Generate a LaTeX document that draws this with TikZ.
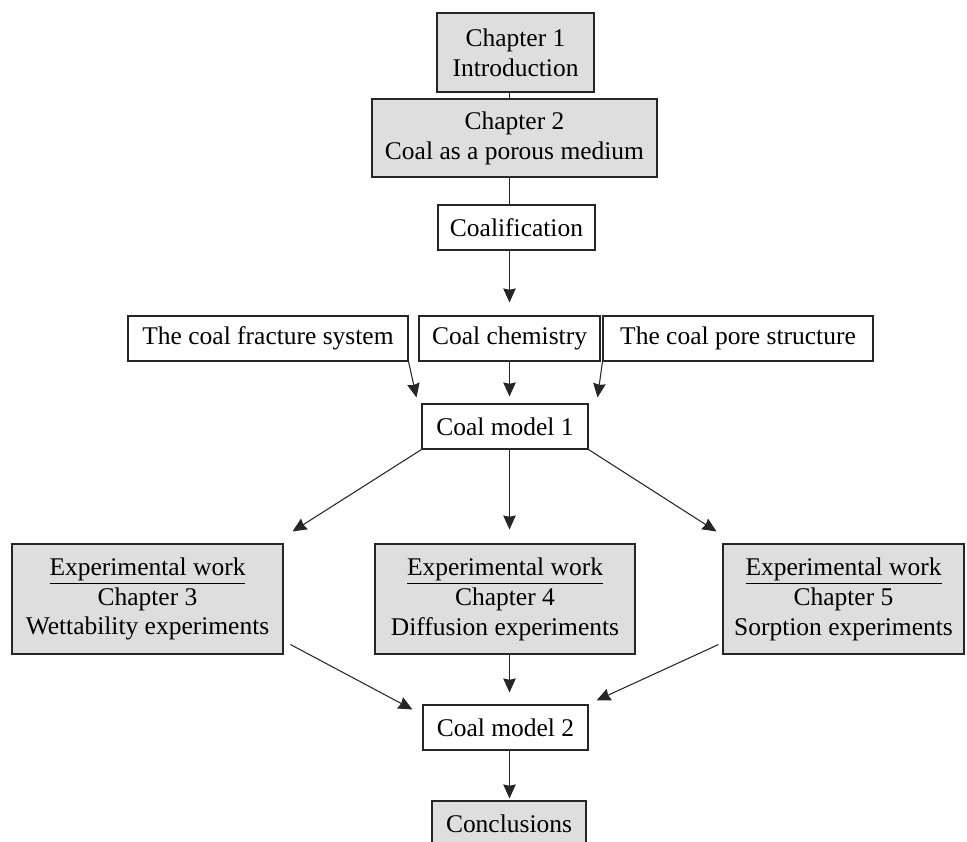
\documentclass[tikz,border=0pt]{standalone}
\usepackage{fontspec}
\setmainfont{Liberation Serif}
\usepackage{xcolor}
\definecolor{boxgrey}{gray}{0.87}
\usetikzlibrary{arrows.meta, calc}

\begin{document}
\begin{tikzpicture}[>={Stealth[length=2.8mm, width=2.5mm, inset=0.25mm]}, every node/.style={font=\fontsize{14.5}{17}\selectfont},
  whitebox/.style={draw=black!85, line width=0.6pt, fill=white, align=center, inner sep=0pt},
  greybox/.style={whitebox, fill=boxgrey},
  link/.style={draw=black!85, line width=0.6pt}]
  \useasboundingbox (0,0) rectangle (19.34,-16.82);
  \node[greybox, minimum width=3.14cm, minimum height=1.58cm] (chap1) at (10.31,-1.05) {Chapter 1\\Introduction};
  \node[greybox, minimum width=5.7cm, minimum height=1.56cm] (chap2) at (10.29,-2.76) {Chapter 2\\Coal as a porous medium};
  \node[whitebox, minimum width=3.14cm, minimum height=0.9cm] (coalif) at (10.33,-4.55) {Coalification};
  \node[whitebox, minimum width=5.6cm, minimum height=0.9cm] (fracture) at (5.36,-6.77) {The coal fracture system};
  \node[whitebox, minimum width=3.62cm, minimum height=0.9cm] (chemistry) at (10.19,-6.77) {Coal chemistry};
  \node[whitebox, minimum width=5.4cm, minimum height=0.9cm] (pores) at (14.76,-6.77) {The coal pore structure};
  \node[whitebox, minimum width=3.32cm, minimum height=0.9cm] (model1) at (10.10,-8.53) {Coal model 1};
  \node[greybox, minimum width=5.42cm, minimum height=2.2cm] (exp3) at (2.95,-11.98) {\underline{Experimental work}\\Chapter 3\\Wettability experiments};
  \node[greybox, minimum width=5.2cm, minimum height=2.2cm] (exp4) at (10.10,-11.98) {\underline{Experimental work}\\Chapter 4\\Diffusion experiments};
  \node[greybox, minimum width=4.82cm, minimum height=2.2cm] (exp5) at (16.87,-11.98) {\underline{Experimental work}\\Chapter 5\\Sorption experiments};
  \node[whitebox, minimum width=3.3cm, minimum height=0.9cm] (model2) at (10.11,-14.55) {Coal model 2};
  \node[greybox, minimum width=3.08cm, minimum height=0.9cm] (concl) at (10.18,-16.47) {Conclusions};
  \draw[link] (chap1.south -| chemistry.north) -- (chap2.north -| chemistry.north);
  \draw[link] (chap2.south -| chemistry.north) -- (coalif.north -| chemistry.north);
  \draw[link, ->, shorten >=0.26cm] (coalif.south -| chemistry.north) -- (chemistry.north);
  \draw[link, ->] (fracture.south east) -- ($(model1.north west)+(-0.1,0.12)$);
  \draw[link, ->, shorten >=0.14cm] (chemistry.south) -- (chemistry.south |- model1.north);
  \draw[link, ->] (pores.south west) -- ($(model1.north east)+(0.18,0.12)$);
  \draw[link, ->] (model1.south west) -- ($(exp3.north east)+(0.18,0.24)$);
  \draw[link, ->, shorten >=0.28cm] (model1.south -| chemistry.south) -- (exp4.north -| chemistry.south);
  \draw[link, ->] (model1.south east) -- ($(exp5.north west)+(-0.12,0.24)$);
  \draw[link, ->] ($(exp3.south east)+(0.14,0.2)$) -- ($(model2.north west)+(-0.2,-0.1)$);
  \draw[link, ->, shorten >=0.24cm] (exp4.south -| chemistry.south) -- (model2.north -| chemistry.south);
  \draw[link, ->] ($(exp5.south west)+(-0.08,0.2)$) -- ($(model2.north east)+(0.16,0.08)$);
  \draw[link, ->, shorten >=0.04cm] (model2.south -| chemistry.south) -- (concl.north -| chemistry.south);
\end{tikzpicture}
\end{document}
